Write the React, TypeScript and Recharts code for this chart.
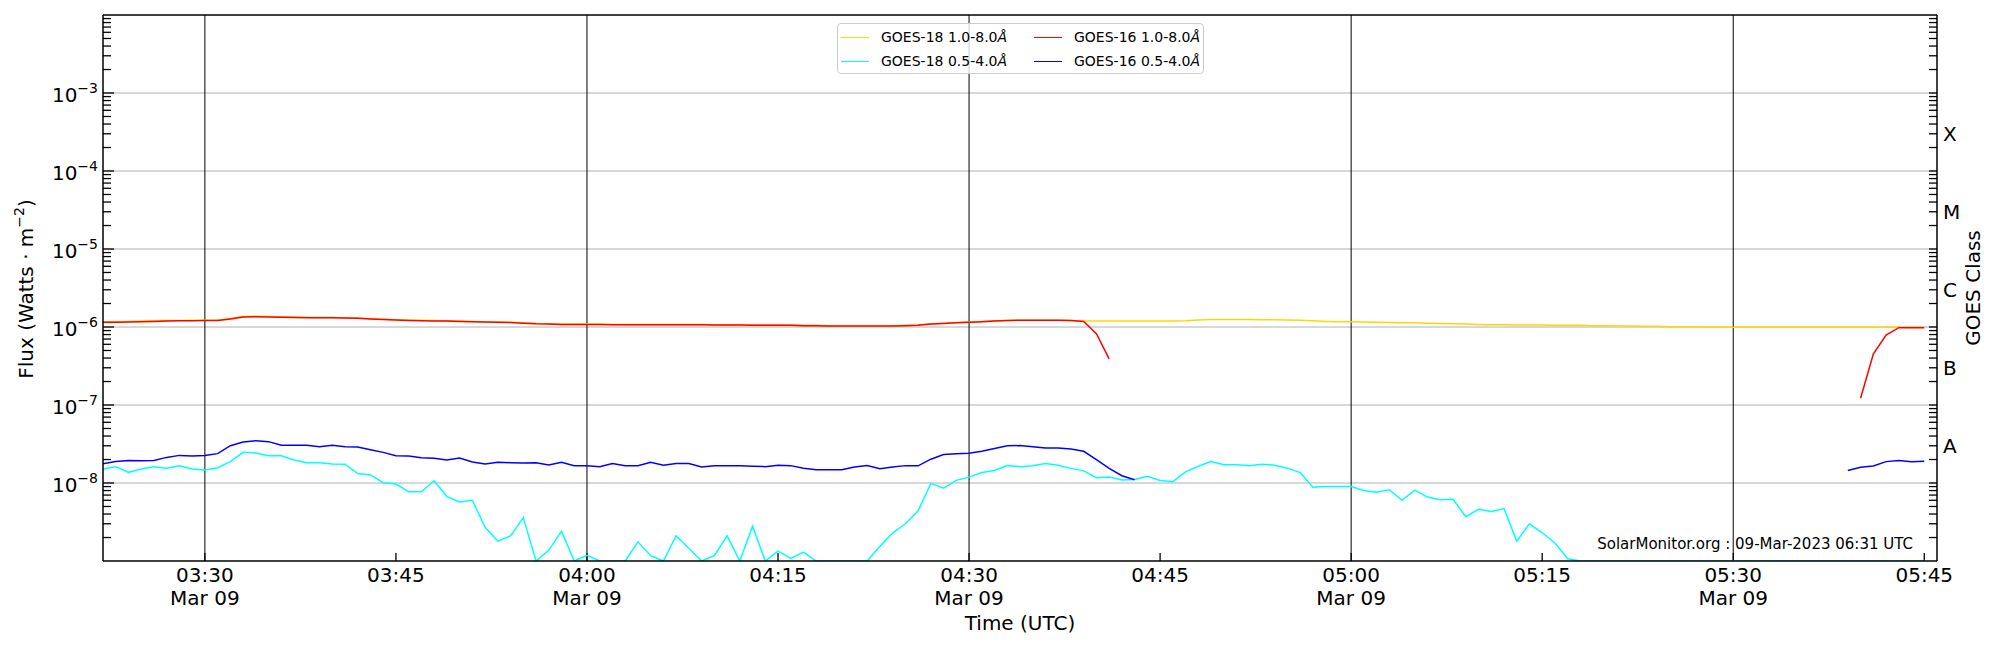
import React from "react";
import { LineChart, Line, XAxis, YAxis, ReferenceLine, Legend } from "recharts";

// GOES XRS one-minute samples, 09-Mar-2023
const times = [
  "03:22", "03:23", "03:24", "03:25", "03:26", "03:27", "03:28", "03:29", "03:30", "03:31",
  "03:32", "03:33", "03:34", "03:35", "03:36", "03:37", "03:38", "03:39", "03:40", "03:41",
  "03:42", "03:43", "03:44", "03:45", "03:46", "03:47", "03:48", "03:49", "03:50", "03:51",
  "03:52", "03:53", "03:54", "03:55", "03:56", "03:57", "03:58", "03:59", "04:00", "04:01",
  "04:02", "04:03", "04:04", "04:05", "04:06", "04:07", "04:08", "04:09", "04:10", "04:11",
  "04:12", "04:13", "04:14", "04:15", "04:16", "04:17", "04:18", "04:19", "04:20", "04:21",
  "04:22", "04:23", "04:24", "04:25", "04:26", "04:27", "04:28", "04:29", "04:30", "04:31",
  "04:32", "04:33", "04:34", "04:35", "04:36", "04:37", "04:38", "04:39", "04:40", "04:41",
  "04:42", "04:43", "04:44", "04:45", "04:46", "04:47", "04:48", "04:49", "04:50", "04:51",
  "04:52", "04:53", "04:54", "04:55", "04:56", "04:57", "04:58", "04:59", "05:00", "05:01",
  "05:02", "05:03", "05:04", "05:05", "05:06", "05:07", "05:08", "05:09", "05:10", "05:11",
  "05:12", "05:13", "05:14", "05:15", "05:16", "05:17", "05:18", "05:19", "05:20", "05:21",
  "05:22", "05:23", "05:24", "05:25", "05:26", "05:27", "05:28", "05:29", "05:30", "05:31",
  "05:32", "05:33", "05:34", "05:35", "05:36", "05:37", "05:38", "05:39", "05:40", "05:41",
  "05:42", "05:43", "05:44", "05:45",
];

// long channel values are in 1e-6 W/m^2, short channel in 1e-8 W/m^2
const LONG_UNIT = 1e-6;
const SHORT_UNIT = 1e-8;

const goes18Long = [
  1.17, 1.17, 1.18, 1.19, 1.2, 1.21, 1.21, 1.22, 1.22, 1.22,
  1.29, 1.36, 1.37, 1.36, 1.35, 1.34, 1.33, 1.32, 1.32, 1.31,
  1.3, 1.28, 1.26, 1.24, 1.23, 1.22, 1.21, 1.2, 1.19, 1.18,
  1.17, 1.16, 1.15, 1.13, 1.11, 1.1, 1.09, 1.09, 1.09, 1.09,
  1.08, 1.08, 1.08, 1.08, 1.08, 1.08, 1.08, 1.08, 1.07, 1.07,
  1.07, 1.06, 1.06, 1.06, 1.06, 1.05, 1.05, 1.04, 1.04, 1.04,
  1.04, 1.04, 1.04, 1.05, 1.06, 1.1, 1.12, 1.14, 1.16, 1.18,
  1.2, 1.21, 1.22, 1.22, 1.22, 1.22, 1.21, 1.19, 1.19, 1.19,
  1.19, 1.19, 1.19, 1.19, 1.19, 1.2, 1.23, 1.25, 1.25, 1.25,
  1.25, 1.24, 1.24, 1.23, 1.22, 1.2, 1.18, 1.17, 1.17, 1.16,
  1.15, 1.14, 1.13, 1.13, 1.12, 1.11, 1.1, 1.09, 1.08, 1.07,
  1.07, 1.06, 1.06, 1.06, 1.05, 1.05, 1.05, 1.04, 1.04, 1.03,
  1.03, 1.02, 1.02, 1.01, 1.0, 1.0, 0.99, 0.99, 0.99, 0.99,
  0.99, 0.99, 0.99, 0.99, 0.99, 0.99, 0.99, 0.99, 0.99, 0.99,
  0.99, 0.99, 0.99, 0.99,
];

const goes18Short = [
  1.51, 1.62, 1.37, 1.51, 1.62, 1.55, 1.66, 1.51, 1.47, 1.57,
  1.88, 2.47, 2.43, 2.24, 2.24, 1.97, 1.82, 1.82, 1.75, 1.74,
  1.32, 1.27, 1.01, 0.97, 0.77, 0.77, 1.07, 0.67, 0.57, 0.6,
  0.27, 0.18, 0.21, 0.36, 0.1, 0.137, 0.24, 0.1, 0.118, 0.1,
  0.1, 0.1, 0.176, 0.117, 0.1, 0.21, 0.146, 0.1, 0.117, 0.21,
  0.1, 0.28, 0.1, 0.134, 0.108, 0.13, 0.1, 0.1, 0.1, 0.1,
  0.1, 0.154, 0.228, 0.3, 0.44, 0.99, 0.86, 1.08, 1.19, 1.36,
  1.45, 1.67, 1.62, 1.66, 1.78, 1.69, 1.54, 1.43, 1.17, 1.19,
  1.09, 1.11, 1.22, 1.08, 1.04, 1.39, 1.64, 1.88, 1.72, 1.72,
  1.66, 1.74, 1.69, 1.55, 1.36, 0.88, 0.9, 0.9, 0.9, 0.8,
  0.76, 0.82, 0.6, 0.81, 0.66, 0.61, 0.62, 0.37, 0.46, 0.43,
  0.47, 0.18, 0.3, 0.23, 0.17, 0.107, 0.1, 0.1, 0.1, 0.1,
  0.1, 0.1, 0.1, 0.1, 0.1, 0.1, 0.1, 0.1, 0.1, 0.1,
  0.1, 0.1, 0.1, 0.1, 0.1, 0.1, 0.1, 0.1, 0.1, 0.1,
  0.1, 0.1, 0.1, 0.1,
];

const goes16Long = [
  1.15, 1.15, 1.16, 1.17, 1.18, 1.19, 1.2, 1.2, 1.21, 1.21,
  1.27, 1.34, 1.35, 1.34, 1.33, 1.32, 1.31, 1.31, 1.31, 1.3,
  1.29, 1.27, 1.25, 1.23, 1.21, 1.2, 1.19, 1.19, 1.18, 1.17,
  1.16, 1.15, 1.14, 1.12, 1.1, 1.09, 1.08, 1.08, 1.08, 1.08,
  1.07, 1.07, 1.07, 1.07, 1.07, 1.07, 1.07, 1.07, 1.06, 1.06,
  1.06, 1.05, 1.05, 1.05, 1.05, 1.04, 1.04, 1.03, 1.03, 1.03,
  1.03, 1.03, 1.03, 1.04, 1.05, 1.09, 1.11, 1.13, 1.15, 1.17,
  1.19, 1.21, 1.22, 1.22, 1.22, 1.22, 1.21, 1.18, 0.82, 0.39,
  null, null, null, null, null, null, null, null, null, null,
  null, null, null, null, null, null, null, null, null, null,
  null, null, null, null, null, null, null, null, null, null,
  null, null, null, null, null, null, null, null, null, null,
  null, null, null, null, null, null, null, null, null, null,
  null, null, null, null, null, null, null, null, 0.122, 0.45,
  0.79, 0.98, 0.98, 0.98,
];

const goes16Short = [
  1.77, 1.88, 1.94, 1.93, 1.94, 2.13, 2.26, 2.22, 2.26, 2.38,
  3.01, 3.36, 3.49, 3.39, 3.04, 3.04, 3.04, 2.92, 3.04, 2.92,
  2.9, 2.67, 2.47, 2.24, 2.22, 2.11, 2.07, 1.97, 2.09, 1.86,
  1.75, 1.85, 1.82, 1.8, 1.82, 1.7, 1.84, 1.67, 1.67, 1.62,
  1.78, 1.66, 1.67, 1.84, 1.69, 1.78, 1.78, 1.6, 1.66, 1.66,
  1.66, 1.64, 1.62, 1.69, 1.67, 1.55, 1.48, 1.48, 1.48, 1.6,
  1.67, 1.52, 1.6, 1.67, 1.66, 2.02, 2.32, 2.38, 2.4, 2.56,
  2.77, 3.0, 3.02, 2.92, 2.81, 2.81, 2.73, 2.55, 2.0, 1.54,
  1.24, 1.1, null, null, null, null, null, null, null, null,
  null, null, null, null, null, null, null, null, null, null,
  null, null, null, null, null, null, null, null, null, null,
  null, null, null, null, null, null, null, null, null, null,
  null, null, null, null, null, null, null, null, null, null,
  null, null, null, null, null, null, null, 1.45, 1.59, 1.65,
  1.88, 1.94, 1.87, 1.9,
];

// axes
const timeDomain = ["03:22", "05:46"];
const timeTicks = ["03:30", "03:45", "04:00", "04:15", "04:30", "04:45", "05:00", "05:15", "05:30", "05:45"];
const halfHours = ["03:30", "04:00", "04:30", "05:00", "05:30"];
const dateLabel = "Mar 09";
const decades = [1e-9, 1e-8, 1e-7, 1e-6, 1e-5, 1e-4, 1e-3, 1e-2];
const minorSteps = [2, 3, 4, 5, 6, 7, 8, 9];
const labelledExponents = [-8, -7, -6, -5, -4, -3];
const classLevels = [3e-8, 3e-7, 3e-6, 3e-5, 3e-4];
const classLetters = ["A", "B", "C", "M", "X"];
const stamp = "SolarMonitor.org : 09-Mar-2023 06:31 UTC";

const series = [
  { key: "g18Long", name: "GOES-18 1.0-8.0Å", color: "#FFD700" },
  { key: "g18Short", name: "GOES-18 0.5-4.0Å", color: "#00FFFF" },
  { key: "g16Long", name: "GOES-16 1.0-8.0Å", color: "#FF0000" },
  { key: "g16Short", name: "GOES-16 0.5-4.0Å", color: "#0000FF" },
];

const FONT = "'DejaVu Sans', sans-serif";
const CHART_W = 2000;
const CHART_H = 650;
const MARGIN_TOP = 15;
const LEFT_W = 103;
const RIGHT_W = 63;
const BOTTOM_H = 89;
const LEFT_GAP = 5;
const RIGHT_GAP = 6;

const toMinutes = (hhmm: string) => {
  const [h, m] = hhmm.split(":").map(Number);
  return h * 60 + m;
};
const fmt = (min: number) =>
  `${String(Math.floor(min / 60)).padStart(2, "0")}:${String(min % 60).padStart(2, "0")}`;

const scaled = (v: number | null, unit: number) => (v == null ? null : v * unit);

const rows = times.map((t, i) => ({
  minute: toMinutes(t),
  g18Long: scaled(goes18Long[i], LONG_UNIT),
  g18Short: scaled(goes18Short[i], SHORT_UNIT),
  g16Long: scaled(goes16Long[i], LONG_UNIT),
  g16Short: scaled(goes16Short[i], SHORT_UNIT),
}));

const yTicks: number[] = [];
decades.forEach((d, i) => {
  yTicks.push(d);
  if (i < decades.length - 1) minorSteps.forEach((s) => yTicks.push(s * d));
});

const isDecade = (v: number) => Math.abs(Math.log10(v) - Math.round(Math.log10(v))) < 1e-9;

// tick lengths in pixels converted to data units so the inward ticks go through the axes' scales
const xMin = toMinutes(timeDomain[0]);
const xMax = toMinutes(timeDomain[1]);
const pxPerMinute = (CHART_W - LEFT_W - RIGHT_W) / (xMax - xMin);
const pxPerDecade = (CHART_H - MARGIN_TOP - BOTTOM_H) / (decades.length - 1);
const xLen = (px: number) => px / pxPerMinute;
const yUp = (v: number, px: number) => v * Math.pow(10, px / pxPerDecade);

function LeftTick(props: any) {
  const { x, y, payload } = props;
  const v = payload.value as number;
  const exp = Math.round(Math.log10(v));
  if (!isDecade(v) || !labelledExponents.includes(exp)) return <g />;
  return (
    <text x={x} y={y + 9} textAnchor="end" fontFamily={FONT} fontSize={20} fill="#000">
      10
      <tspan fontSize={14} dy={-9}>
        {"\u2212" + Math.abs(exp)}
      </tspan>
    </text>
  );
}

function RightTick(props: any) {
  const { x, y, payload } = props;
  const v = payload.value as number;
  const k = classLevels.findIndex((c) => Math.abs(c - v) / c < 1e-6);
  if (k < 0) return <g />;
  return (
    <text x={x} y={y + 7} textAnchor="start" fontFamily={FONT} fontSize={20} fill="#000">
      {classLetters[k]}
    </text>
  );
}

function TimeTick(props: any) {
  const { x, y, payload } = props;
  const label = fmt(payload.value);
  return (
    <g>
      <text x={x} y={y + 21} textAnchor="middle" fontFamily={FONT} fontSize={20} fill="#000">
        {label}
      </text>
      {halfHours.includes(label) && (
        <text x={x} y={y + 44} textAnchor="middle" fontFamily={FONT} fontSize={20} fill="#000">
          {dateLabel}
        </text>
      )}
    </g>
  );
}

function FluxLabel(props: any) {
  const { y, height } = props.viewBox;
  const px = 33;
  const py = y + height / 2 + 1;
  return (
    <text
      x={px}
      y={py}
      transform={`rotate(-90 ${px} ${py})`}
      textAnchor="middle"
      fontFamily={FONT}
      fontSize={20}
      fill="#000"
    >
      Flux (Watts · m
      <tspan fontSize={14} dy={-9}>
        {"\u22122"}
      </tspan>
      <tspan dy={9}>)</tspan>
    </text>
  );
}

function ClassLabel(props: any) {
  const { x, y, height } = props.viewBox;
  const px = x + 43;
  const py = y + height / 2;
  return (
    <text
      x={px}
      y={py}
      transform={`rotate(-90 ${px} ${py})`}
      textAnchor="middle"
      fontFamily={FONT}
      fontSize={20}
      fill="#000"
    >
      GOES Class
    </text>
  );
}

function TimeLabel(props: any) {
  const { x, y, width } = props.viewBox;
  return (
    <text x={x + width / 2} y={y + 69} textAnchor="middle" fontFamily={FONT} fontSize={20} fill="#000">
      Time (UTC)
    </text>
  );
}

const legendColumns = [
  ["g18Long", "g18Short"],
  ["g16Long", "g16Short"],
];

function LegendBox() {
  const colLine = [4, 197];
  const colText = [44, 237];
  const rowMid = [14, 38];
  return (
    <div
      style={{
        position: "relative",
        width: 367,
        height: 51,
        boxSizing: "border-box",
        border: "1px solid #cccccc",
        borderRadius: 4,
        background: "rgba(255,255,255,0.8)",
        fontFamily: FONT,
        fontSize: 14,
        color: "#000",
      }}
    >
      {legendColumns.map((col, c) =>
        col.map((key, r) => {
          const s = series.find((d) => d.key === key)!;
          return (
            <React.Fragment key={key}>
              <div
                style={{
                  position: "absolute",
                  left: colLine[c] - 1,
                  top: rowMid[r] - 1.5,
                  width: 28,
                  height: 1.5,
                  background: s.color,
                }}
              />
              <div
                style={{
                  position: "absolute",
                  left: colText[c] - 1,
                  top: rowMid[r] - 9,
                  height: 16,
                  lineHeight: "16px",
                  whiteSpace: "nowrap",
                }}
              >
                {s.name.slice(0, -1)}
                <span style={{ fontStyle: "italic" }}>{s.name.slice(-1)}</span>
              </div>
            </React.Fragment>
          );
        })
      )}
    </div>
  );
}

export default function App() {
  const frame = { stroke: "#000", strokeWidth: 1.5 };
  const tickStyle = { stroke: "#000", strokeWidth: 1.3, ifOverflow: "visible" as const };
  const yInner = yTicks.filter((v) => v > decades[0] && v < decades[decades.length - 1]);
  return (
    <div style={{ position: "absolute", left: 0, top: 0, width: CHART_W, height: CHART_H, background: "#fff" }}>
      <LineChart
        width={CHART_W}
        height={CHART_H}
        data={rows}
        margin={{ top: MARGIN_TOP, right: 0, bottom: 0, left: 0 }}
      >
        <XAxis
          dataKey="minute"
          type="number"
          domain={[xMin, xMax]}
          ticks={timeTicks.map(toMinutes)}
          interval={0}
          height={BOTTOM_H}
          tickSize={0}
          tickMargin={0}
          tickLine={false}
          axisLine={frame}
          tick={TimeTick}
          allowDataOverflow
          label={{ content: TimeLabel }}
        />
        <YAxis
          yAxisId="left"
          scale="log"
          type="number"
          domain={[decades[0], decades[decades.length - 1]]}
          ticks={yTicks}
          interval={0}
          width={LEFT_W}
          tickSize={0}
          tickMargin={LEFT_GAP}
          tickLine={false}
          axisLine={frame}
          tick={LeftTick}
          allowDataOverflow
          label={{ content: FluxLabel }}
        />
        <YAxis
          yAxisId="right"
          orientation="right"
          scale="log"
          type="number"
          domain={[decades[0], decades[decades.length - 1]]}
          ticks={yTicks}
          interval={0}
          width={RIGHT_W}
          tickSize={0}
          tickMargin={RIGHT_GAP}
          tickLine={false}
          axisLine={frame}
          tick={RightTick}
          allowDataOverflow
          label={{ content: ClassLabel }}
        />
        {decades.slice(1, -1).map((d) => (
          <ReferenceLine key={`g${d}`} yAxisId="left" y={d} stroke="#b0b0b0" strokeWidth={1} />
        ))}
        {halfHours.map((t) => (
          <ReferenceLine key={t} yAxisId="left" x={toMinutes(t)} stroke="#000" strokeWidth={1} />
        ))}
        {/* inward ticks, matplotlib style */}
        {yInner.map((v) => (
          <ReferenceLine
            key={`l${v}`}
            yAxisId="left"
            segment={[
              { x: xMin, y: v },
              { x: xMin + xLen(isDecade(v) ? 11 : 8), y: v },
            ]}
            {...tickStyle}
          />
        ))}
        {yInner.map((v) => (
          <ReferenceLine
            key={`r${v}`}
            yAxisId="left"
            segment={[
              { x: xMax - xLen(8), y: v },
              { x: xMax, y: v },
            ]}
            {...tickStyle}
          />
        ))}
        {timeTicks.map((t) => (
          <ReferenceLine
            key={`b${t}`}
            yAxisId="left"
            segment={[
              { x: toMinutes(t), y: decades[0] },
              { x: toMinutes(t), y: yUp(decades[0], 8) },
            ]}
            {...tickStyle}
          />
        ))}
        <ReferenceLine
          yAxisId="left"
          y={decades[decades.length - 1]}
          stroke="#000"
          strokeWidth={1.5}
          ifOverflow="visible"
        />
        {series.map((s) => (
          <Line
            key={s.key}
            yAxisId="left"
            type="linear"
            dataKey={s.key}
            name={s.name}
            stroke={s.color}
            strokeWidth={1.5}
            dot={false}
            activeDot={false}
            connectNulls={false}
            isAnimationActive={false}
          />
        ))}
        <Legend
          layout="vertical"
          align="center"
          verticalAlign="middle"
          content={LegendBox}
          wrapperStyle={{ left: 837, top: 23, width: 367, height: 51, right: "auto", bottom: "auto" }}
        />
      </LineChart>
      <svg
        width={CHART_W}
        height={CHART_H}
        style={{ position: "absolute", left: 0, top: 0, pointerEvents: "none" }}
      >
        <text x={1913} y={549} textAnchor="end" fontFamily={FONT} fontSize={15} fill="#000">
          {stamp}
        </text>
      </svg>
    </div>
  );
}
